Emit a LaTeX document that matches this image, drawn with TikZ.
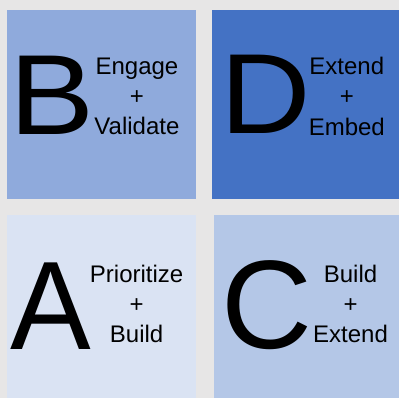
\documentclass[tikz,border=0pt]{standalone}
\usepackage{fontspec}
\setmainfont{Liberation Sans}
\usetikzlibrary{positioning}

\definecolor{backdrop}{HTML}{E7E6E6}
\definecolor{paneA}{HTML}{DAE3F3}
\definecolor{paneB}{HTML}{8FAADC}
\definecolor{paneC}{HTML}{B4C7E7}
\definecolor{paneD}{HTML}{4472C4}

% letter stretched sideways by #1
\newcommand{\wideletter}[2]{\scalebox{#1}[1]{#2}}

\begin{document}
\begin{tikzpicture}[x=1pt,y=1pt]
\tikzset{
  tile/.style   = {draw=none, anchor=south west, inner sep=0pt},
  letter/.style = {font=\fontsize{114}{114}\selectfont, inner sep=0pt, anchor=base},
  bigletter/.style = {letter, font=\fontsize{126}{126}\selectfont},
  phase/.style  = {font=\fontsize{24}{30.2}\selectfont, align=center, inner sep=0pt}
}
\fill[backdrop] (0,0) rectangle (399,398);
% the four panes
\node[tile, fill=paneB, minimum width=189pt, minimum height=189pt] (paneB) at (7,199) {};
\node[tile, fill=paneD, minimum width=187pt, minimum height=189pt] (paneD) at (212,199) {};
\node[tile, fill=paneA, minimum width=189pt, minimum height=183pt] (paneA) at (7,0) {};
\node[tile, fill=paneC, minimum width=185pt, minimum height=183pt] (paneC) at (214,0) {};
% big letters
\node[letter] (letB) at (52,263) {\wideletter{1.12}{B}};
\node[letter] (letD) at (266,264.5) {\wideletter{1.1}{D}};
\node[bigletter] (letA) at (50.8,48.7) {\wideletter{0.96}{A}};
\node[bigletter] (letC) at (266.7,49.5) {C};
% what each stage does
\node[phase] (txtB) at (137,301.4) {Engage\\+\\Validate};
\node[phase] (txtD) at (347,301.7) {Extend\\+\\Embed};
\node[phase] (txtA) at (136.7,94.1) {Prioritize\\+\\Build};
\node[phase] (txtC) at (350.7,94.1) {Build\\+\\Extend};
\end{tikzpicture}
\end{document}
